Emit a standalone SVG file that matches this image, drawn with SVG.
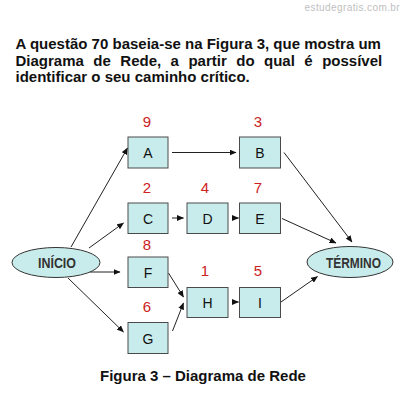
<svg xmlns="http://www.w3.org/2000/svg" width="402" height="402" viewBox="0 0 402 402">
<style>
.q{font-family:"Liberation Sans",Arial,sans-serif;font-weight:bold;font-size:15px;fill:#111}
.wm{font-family:"Liberation Sans",Arial,sans-serif;font-size:10px;fill:#c0c0c0;letter-spacing:0.4px}
.box{fill:#c8ecec;stroke:#4a4a4a;stroke-width:1}
.ell{fill:#c8ecec;stroke:#333;stroke-width:1}
.lbl{font-family:"Liberation Sans",Arial,sans-serif;font-size:14px;fill:#111;text-anchor:middle}
.el{font-family:"Liberation Sans",Arial,sans-serif;font-weight:bold;font-size:14px;fill:#333}
.num{font-family:"Liberation Sans",Arial,sans-serif;font-size:15px;fill:#cc2222;text-anchor:middle}
.c{stroke:#222;stroke-width:1;fill:none;marker-end:url(#ah)}
</style>
<defs>
<marker id="ah" markerWidth="7" markerHeight="6" refX="6.5" refY="3" orient="auto" markerUnits="userSpaceOnUse">
<path d="M0,0 L7,3 L0,6 Z" fill="#111"/>
</marker>
</defs>
<rect width="402" height="402" fill="#fff"/>
<text class="wm" x="400" y="11" text-anchor="end">estudegratis.com.br</text>
<g id="question">
<text class="q" x="15.5" y="49">A questão 70 baseia-se na Figura 3, que mostra um</text>
<text class="q" x="15.5" y="66" word-spacing="5.3">Diagrama de Rede, a partir do qual é possível</text>
<text class="q" x="15.5" y="82">identificar o seu caminho crítico.</text>
</g>
<g id="connectors">
<line class="c" x1="71" y1="247" x2="127.5" y2="148"/>
<line class="c" x1="89" y1="248" x2="123.5" y2="223"/>
<line class="c" x1="90" y1="272" x2="120" y2="272"/>
<line class="c" x1="68" y1="278" x2="123.5" y2="332"/>
<line class="c" x1="172" y1="152.5" x2="236" y2="152.5"/>
<line class="c" x1="172" y1="218" x2="183.5" y2="218"/>
<line class="c" x1="232" y1="218" x2="238.5" y2="218"/>
<line class="c" x1="168.5" y1="273" x2="183.5" y2="297"/>
<line class="c" x1="172.5" y1="331" x2="183.5" y2="303"/>
<line class="c" x1="232" y1="302" x2="238.5" y2="302"/>
<line class="c" x1="284" y1="152.5" x2="352" y2="242"/>
<line class="c" x1="282" y1="218.5" x2="336" y2="243"/>
<line class="c" x1="281" y1="302" x2="317.5" y2="276.5"/>
</g>
<g id="inicio">
<ellipse class="ell" cx="56" cy="262.5" rx="44" ry="15"/>
<text class="el" x="38" y="268" textLength="38" lengthAdjust="spacingAndGlyphs">INÍCIO</text>
</g>
<g id="termino">
<ellipse class="ell" cx="350" cy="262" rx="43" ry="15.5"/>
<text class="el" x="326" y="268" textLength="55" lengthAdjust="spacingAndGlyphs">TÉRMINO</text>
</g>
<g id="A"><rect class="box" x="128" y="137" width="40" height="31"/><text class="lbl" x="148" y="158">A</text><text class="num" x="147" y="127">9</text></g>
<g id="B"><rect class="box" x="239.5" y="137" width="41" height="31"/><text class="lbl" x="260" y="158">B</text><text class="num" x="258" y="127">3</text></g>
<g id="C"><rect class="box" x="128" y="203" width="40" height="30.5"/><text class="lbl" x="148" y="223.5">C</text><text class="num" x="147" y="193">2</text></g>
<g id="D"><rect class="box" x="187" y="203" width="41" height="30.5"/><text class="lbl" x="207.5" y="223.5">D</text><text class="num" x="205" y="193">4</text></g>
<g id="E"><rect class="box" x="239.5" y="203" width="41" height="30.5"/><text class="lbl" x="260" y="223.5">E</text><text class="num" x="258" y="193">7</text></g>
<g id="F"><rect class="box" x="128" y="257" width="40" height="30.5"/><text class="lbl" x="148" y="277.5">F</text><text class="num" x="147" y="249.5">8</text></g>
<g id="G"><rect class="box" x="128" y="322.5" width="40" height="31"/><text class="lbl" x="148" y="343.5">G</text><text class="num" x="147" y="312">6</text></g>
<g id="H"><rect class="box" x="187" y="287.5" width="41" height="30"/><text class="lbl" x="207.5" y="307.5">H</text><text class="num" x="205" y="276">1</text></g>
<g id="I"><rect class="box" x="239.5" y="287.5" width="41" height="30"/><text class="lbl" x="260" y="307.5">I</text><text class="num" x="258" y="276">5</text></g>
<text class="q" x="100" y="381">Figura 3 – Diagrama de Rede</text>
</svg>
